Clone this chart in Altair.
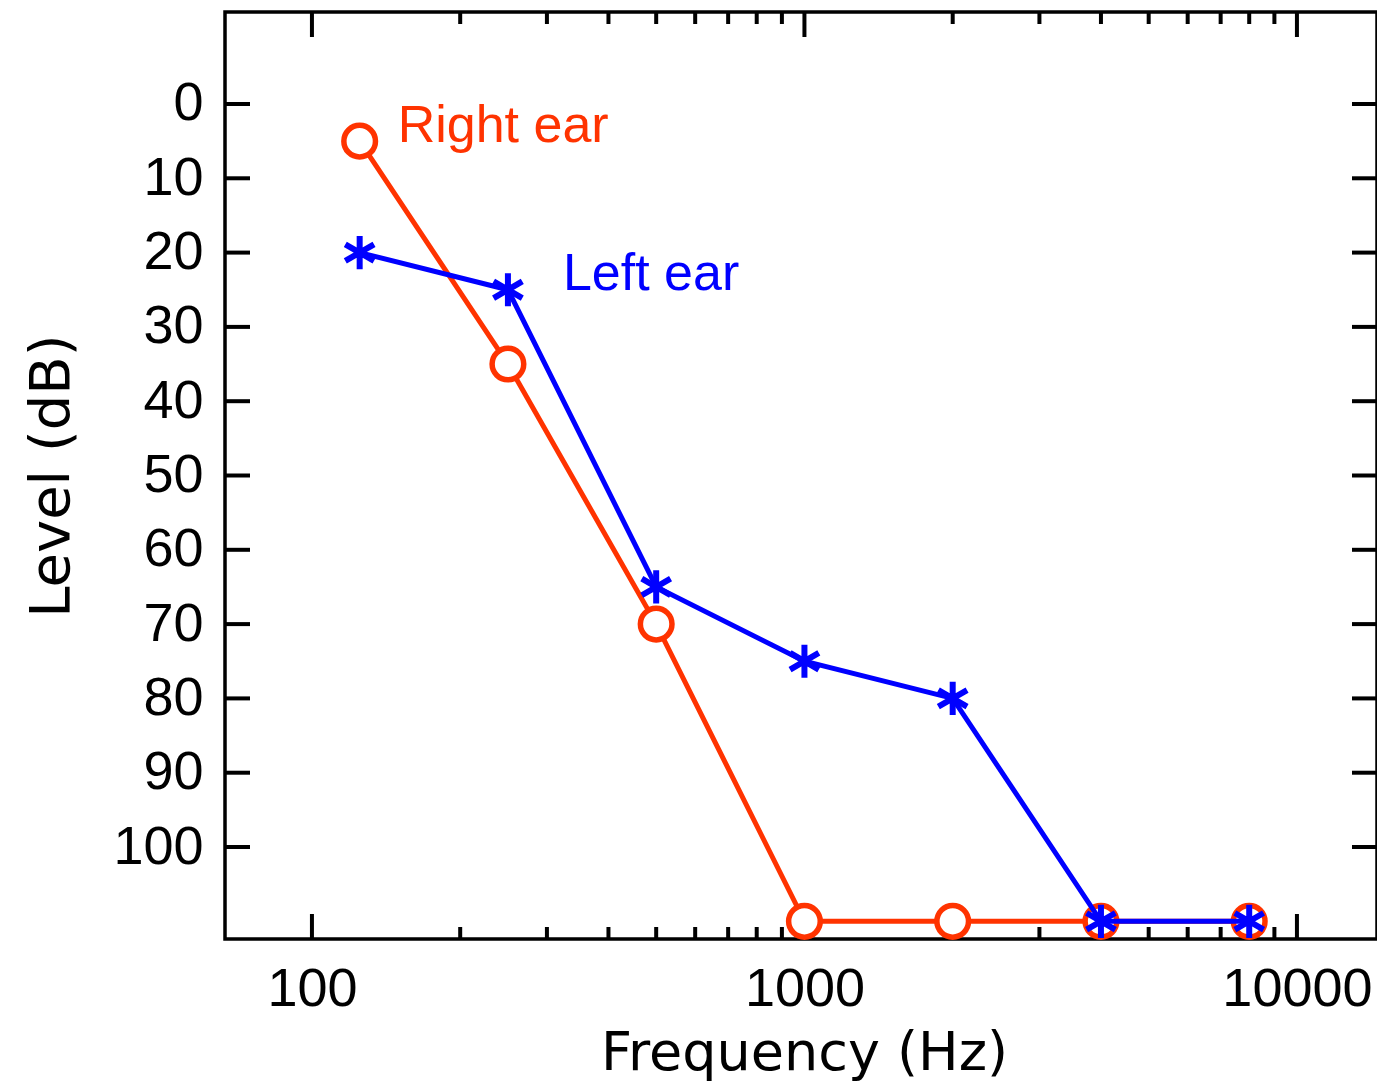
import altair as alt
import pandas as pd

# ---- data ----
freqs = [125, 250, 500, 1000, 2000, 4000, 8000]
right_levels = [5, 35, 70, 110, 110, 110, 110]
left_levels = [20, 25, 65, 75, 80, 110, 110]

x_label_values = [100, 1000, 10000]
y_label_values = [0, 10, 20, 30, 40, 50, 60, 70, 80, 90, 100]
x_major_ticks = [100, 1000, 10000]
x_minor_ticks = [200, 300, 400, 500, 600, 700, 800, 900,
                 2000, 3000, 4000, 5000, 6000, 7000, 8000, 9000]

labels_text = ["Right ear", "Left ear"]
labels_freq = [125, 250]
labels_level = [5, 25]

RED = "#FF3300"
BLUE = "#0000FF"
W, H = 1152, 927

right_df = pd.DataFrame({"f": freqs, "v": right_levels})
left_df = pd.DataFrame({"f": freqs, "v": left_levels})
major_df = pd.DataFrame({"f": x_major_ticks})
minor_df = pd.DataFrame({"f": x_minor_ticks})
yt_df = pd.DataFrame({"v": y_label_values})

xscale = alt.Scale(type="log", domain=[66.6, 14540], nice=False)
yscale = alt.Scale(domain=[-12.38, 112.38], reverse=True, nice=False, zero=False)

x_axis = alt.Axis(values=x_label_values, title="Frequency (Hz)", ticks=False, tickSize=0,
                  grid=False, domain=False, labelFont="Liberation Sans", labelFontSize=54,
                  labelColor="black", labelBaseline="alphabetic", labelPadding=66,
                  labelFlush=False, labelOverlap=False, format="d",
                  titleFont="DejaVu Sans", titleFontSize=54, titleFontWeight="normal",
                  titleColor="black", titleX=579, titleY=130, titleBaseline="alphabetic")
y_axis = alt.Axis(values=y_label_values, title="Level (dB)", ticks=False, tickSize=0,
                  grid=False, domain=False, labelFont="Liberation Sans", labelFontSize=54,
                  labelColor="black", labelBaseline="middle", labelPadding=22,
                  labelFlush=False, labelOverlap=False, format="d",
                  titleFont="DejaVu Sans", titleFontSize=56, titleFontWeight="normal",
                  titleColor="black", titleX=-157, titleY=H / 2,
                  titleAngle=270, titleBaseline="alphabetic", titleAlign="center")

X = alt.X("f:Q", scale=xscale, axis=x_axis)
Y = alt.Y("v:Q", scale=yscale, axis=y_axis)

tick_w = 4
bot_major = alt.Chart(major_df).mark_rule(color="black", strokeWidth=tick_w).encode(
    x=X, y=alt.value(H), y2=alt.value(H - 25))
top_major = alt.Chart(major_df).mark_rule(color="black", strokeWidth=tick_w).encode(
    x=X, y=alt.value(0), y2=alt.value(25))
bot_minor = alt.Chart(minor_df).mark_rule(color="black", strokeWidth=tick_w).encode(
    x=X, y=alt.value(H), y2=alt.value(H - 12))
top_minor = alt.Chart(minor_df).mark_rule(color="black", strokeWidth=tick_w).encode(
    x=X, y=alt.value(0), y2=alt.value(12))
left_ticks = alt.Chart(yt_df).mark_rule(color="black", strokeWidth=tick_w).encode(
    y=Y, x=alt.value(0), x2=alt.value(25))
right_ticks = alt.Chart(yt_df).mark_rule(color="black", strokeWidth=tick_w).encode(
    y=Y, x=alt.value(W - 25), x2=alt.value(W))

red_line = alt.Chart(right_df).mark_line(color=RED, strokeWidth=5).encode(x=X, y=Y)
red_pts = alt.Chart(right_df).mark_point(shape="circle", size=1000, filled=False,
                                         fill="white", fillOpacity=1, color=RED,
                                         stroke=RED, strokeWidth=5.5, opacity=1).encode(x=X, y=Y)
blue_line = alt.Chart(left_df).mark_line(color=BLUE, strokeWidth=5).encode(x=X, y=Y)
ASTERISK = "M0,-1L0,1M-0.866,-0.5L0.866,0.5M-0.866,0.5L0.866,-0.5"
blue_pts = alt.Chart(left_df).mark_point(shape=ASTERISK, size=1100, filled=False,
                                         color=BLUE, stroke=BLUE, strokeWidth=6,
                                         opacity=1).encode(x=X, y=Y)

lab_right = alt.Chart(pd.DataFrame({"f": [labels_freq[0]], "v": [labels_level[0]],
                                    "t": [labels_text[0]]})).mark_text(
    font="Liberation Sans", fontSize=52, color=RED, align="left",
    baseline="alphabetic", dx=38, dy=1).encode(x=X, y=Y, text="t:N")
lab_left = alt.Chart(pd.DataFrame({"f": [labels_freq[1]], "v": [labels_level[1]],
                                   "t": [labels_text[1]]})).mark_text(
    font="Liberation Sans", fontSize=52, color=BLUE, align="left",
    baseline="alphabetic", dx=55, dy=0).encode(x=X, y=Y, text="t:N")

chart = alt.layer(
    bot_major, top_major, bot_minor, top_minor, left_ticks, right_ticks,
    red_line, red_pts, blue_line, blue_pts, lab_right, lab_left
).properties(
    width=W, height=H,
    padding={"left": 217, "top": 4, "right": 0, "bottom": 144},
    autosize=alt.AutoSizeParams(type="none"),
    background="white",
).configure_view(
    stroke="black", strokeWidth=3.5
)

chart.save("out.html", embed_options={"renderer": "svg", "actions": False})
